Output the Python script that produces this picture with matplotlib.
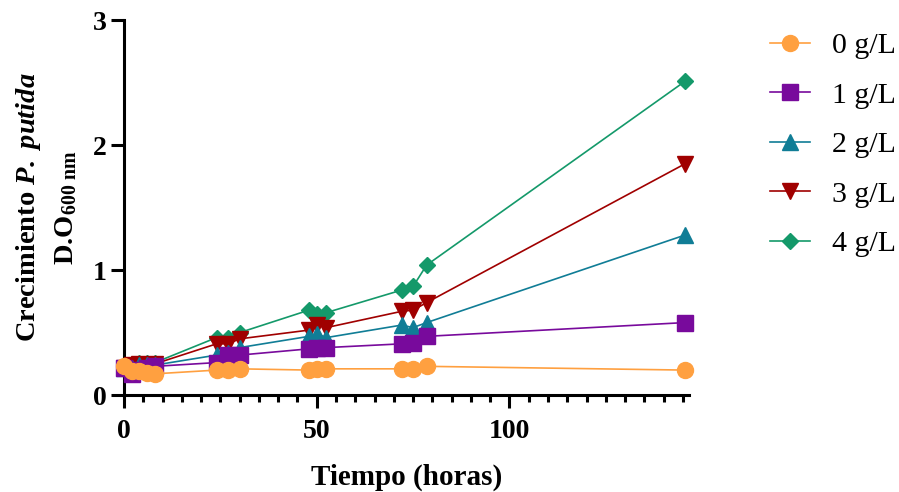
import matplotlib
matplotlib.use('Agg')
from matplotlib import pyplot as plt
from matplotlib.ticker import MultipleLocator

# Tiempo de muestreo (horas)
tiempo = [0, 2, 4, 6, 8, 24, 27, 30, 48, 50, 52.5, 72, 75, 78.5, 145.5]

# Crecimiento D.O 600 nm por concentracion
od_0 = [0.23, 0.19, 0.19, 0.18, 0.17, 0.20, 0.20, 0.21, 0.20, 0.21, 0.21, 0.21, 0.21, 0.23, 0.20]
od_1 = [0.22, 0.17, 0.20, 0.22, 0.23, 0.26, 0.32, 0.32, 0.37, 0.38, 0.38, 0.41, 0.42, 0.47, 0.58]
od_2 = [0.22, 0.22, 0.24, 0.24, 0.24, 0.32, 0.34, 0.38, 0.47, 0.49, 0.46, 0.56, 0.54, 0.58, 1.28]
od_3 = [0.22, 0.24, 0.25, 0.24, 0.25, 0.41, 0.41, 0.45, 0.52, 0.56, 0.54, 0.67, 0.68, 0.74, 1.85]
od_4 = [0.22, 0.25, 0.26, 0.26, 0.26, 0.46, 0.46, 0.50, 0.68, 0.65, 0.66, 0.84, 0.87, 1.04, 2.51]

etiquetas = ['0 g/L', '1 g/L', '2 g/L', '3 g/L', '4 g/L']
series = [od_0, od_1, od_2, od_3, od_4]
colores = ['#FFA040', '#780A9C', '#107D96', '#A00000', '#14996A']
marcadores = ['o', 's', '^', 'v', 'D']
tamanos = [11.5, 11, 11.5, 11.5, 8.5]

plt.rcParams['font.family'] = ['Liberation Serif', 'DejaVu Serif']
plt.rcParams['mathtext.fontset'] = 'custom'
plt.rcParams['mathtext.rm'] = 'Liberation Serif:bold'
plt.rcParams['mathtext.it'] = 'Liberation Serif:italic:bold'
plt.rcParams['mathtext.bf'] = 'Liberation Serif:bold'

fig = plt.figure(figsize=(8.99, 4.92), dpi=100)
ax = fig.add_axes([0.138, 0.197, 0.6285, 0.762])

n = len(series)
for i, (y, lab, c, m, s) in enumerate(zip(series, etiquetas, colores, marcadores, tamanos)):
    ax.plot(tiempo, y, color=c, marker=m, markersize=s, linewidth=1.2,
            label=lab, zorder=3 + n - i, clip_on=False)

ax.set_xlim(0, 146.6)
ax.set_ylim(0, 3)
ax.xaxis.set_major_locator(MultipleLocator(50))
ax.xaxis.set_minor_locator(MultipleLocator(5))
ax.yaxis.set_major_locator(MultipleLocator(1))

for side in ['top', 'right']:
    ax.spines[side].set_visible(False)
for side in ['left', 'bottom']:
    ax.spines[side].set_linewidth(2.2)

ax.tick_params(axis='both', which='major', width=2.2, length=9.5, labelsize=20)
ax.tick_params(axis='x', which='major', pad=8)
ax.tick_params(axis='y', which='major', pad=3)
ax.tick_params(axis='x', which='minor', width=2.2, length=5)
for lbl in ax.get_xticklabels() + ax.get_yticklabels():
    lbl.set_fontweight('bold')

ax.set_xlabel('Tiempo (horas)', fontsize=21, fontweight='bold', labelpad=14)
ax.set_ylabel('Crecimiento $\\mathit{P.\\ putida}$\nD.O$_{\\mathrm{600\\ nm}}$',
              fontsize=20.5, fontweight='bold', labelpad=10, linespacing=1.5)

ax.legend(loc='upper left', bbox_to_anchor=(1.122, 1.0), borderaxespad=0,
          frameon=False, fontsize=21.5, handlelength=1.34, handletextpad=0.74,
          labelspacing=0.76)

fig.savefig('out.png', dpi=100)
